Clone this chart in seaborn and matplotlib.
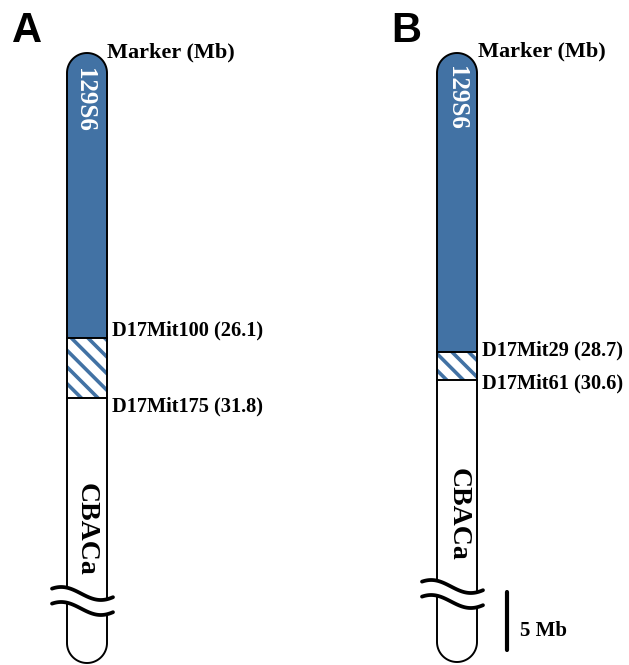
import numpy as np
import matplotlib
matplotlib.use("Agg")
import matplotlib.pyplot as plt
from matplotlib.path import Path
from matplotlib.patches import PathPatch, Rectangle
import seaborn as sns

# ---- data -------------------------------------------------------------
panel_letters = ["A", "B"]
marker_names_a = ["D17Mit100", "D17Mit175"]
marker_mb_a = [26.1, 31.8]
marker_names_b = ["D17Mit29", "D17Mit61"]
marker_mb_b = [28.7, 30.6]
upper_strain = "129S6"
lower_strain = "CBACa"
scale_bar_mb = 5

# ---- style ------------------------------------------------------------
sns.set_theme(style="white")
plt.rcParams["font.family"] = ["Liberation Serif", "DejaVu Serif"]
plt.rcParams["text.color"] = "black"
plt.rcParams["hatch.linewidth"] = 2.6

BLUE = "#4272a4"
W, H = 629, 665

fig = plt.figure(figsize=(W / 100, H / 100), dpi=100)
ax = fig.add_axes([0, 0, 1, 1])
ax.set_xlim(0, W)
ax.set_ylim(H, 0)
ax.set_axis_off()

# per-panel layout (pixel geometry and Mb -> pixel mapping)
panels = [
    dict(letter=panel_letters[0], names=marker_names_a, mb=marker_mb_a,
         xl=67, top=53, bottom=663, y0=62.7, ppm=10.53,
         label_dy=[-2, 14], waves=(593.5, 608.5),
         letter_xy=(12, 42), head_xy=(107, 57),
         upper_xy=(84, 100), lower_xy=(86, 529)),
    dict(letter=panel_letters[1], names=marker_names_b, mb=marker_mb_b,
         xl=437, top=53, bottom=662, y0=-71.0, ppm=14.74,
         label_dy=[3, 8], waves=(586.5, 601.5),
         letter_xy=(391, 42), head_xy=(478, 56),
         upper_xy=(457, 98), lower_xy=(458, 514)),
]
WIDTH = 40
R = WIDTH / 2


def chromosome_path(xl, top, bottom):
    xc = xl + R
    th = np.linspace(np.pi, 0, 40)
    top_arc = np.column_stack([xc + R * np.cos(th), top + R - R * np.sin(th)])
    th2 = np.linspace(0, np.pi, 40)
    bot_arc = np.column_stack([xc + R * np.cos(th2), bottom - R + R * np.sin(th2)])
    verts = np.vstack([top_arc, bot_arc, top_arc[:1]])
    codes = [Path.MOVETO] + [Path.LINETO] * (len(verts) - 2) + [Path.CLOSEPOLY]
    return Path(verts, codes)


def wave(x0, x1, yc, amp=6.5):
    x = np.linspace(x0, x1, 80)
    t = (x - x0) / (x1 - x0)
    y = yc - amp * np.cos(2 * np.pi * (t - 0.15) / 1.3)
    return x, y


for p in panels:
    xl = p["xl"]
    to_px = lambda mb, p=p: p["y0"] + mb * p["ppm"]
    b1, b2 = to_px(p["mb"][0]), to_px(p["mb"][1])

    path = chromosome_path(xl, p["top"], p["bottom"])
    fill = PathPatch(path, facecolor="white", edgecolor="none", zorder=1)
    ax.add_patch(fill)

    # donor segment (blue), flanking interval (hatched)
    blue = Rectangle((xl - 2, p["top"] - 2), WIDTH + 4, b1 - p["top"] + 2,
                     facecolor=BLUE, edgecolor="none", zorder=2)
    ax.add_patch(blue)
    blue.set_clip_path(fill)
    hatch = Rectangle((xl, b1), WIDTH, b2 - b1, facecolor="white",
                      edgecolor=BLUE, hatch="\\\\", linewidth=0, zorder=2)
    ax.add_patch(hatch)

    outline = PathPatch(path, facecolor="none", edgecolor="black",
                        linewidth=1.4, zorder=3)
    ax.add_patch(outline)
    for b in (b1, b2):
        ax.plot([xl, xl + WIDTH], [b, b], color="black", lw=1.4, zorder=3)

    # chromosome break
    x0, x1 = xl - 15, xl + WIDTH + 6
    wx, wy_up = wave(x0, x1, p["waves"][0])
    _, wy_lo = wave(x0, x1, p["waves"][1])
    ax.fill_between(wx, wy_up, wy_lo, color="white", zorder=4, lw=0)
    for wy in (wy_up, wy_lo):
        sns.lineplot(x=wx, y=wy, ax=ax, color="black", lw=2.7,
                     estimator=None, sort=False, zorder=5)

    # labels
    ax.text(*p["letter_xy"], p["letter"], family=["Liberation Sans", "DejaVu Sans"],
            fontsize=30, fontweight="bold", ha="left", va="baseline")
    ax.text(*p["head_xy"], "Marker (Mb)", fontsize=16, fontweight="bold",
            ha="left", va="baseline")
    for name, mb, b, dy in zip(p["names"], p["mb"], (b1, b2), p["label_dy"]):
        ax.text(xl + WIDTH + 5, b + dy, f"{name} ({mb})", fontsize=14.7,
                fontweight="bold", ha="left", va="baseline")
    ax.text(*p["upper_xy"], upper_strain, color="white", fontsize=18,
            fontweight="bold", rotation=-90, ha="center", va="center",
            rotation_mode="anchor", zorder=6)
    ax.text(*p["lower_xy"], lower_strain, color="black", fontsize=20,
            fontweight="bold", rotation=-90, ha="center", va="center",
            rotation_mode="anchor", zorder=6)

# scale bar
bar_ppm = 11.6
bar_x, bar_bottom = 507, 650
sns.lineplot(x=[bar_x, bar_x], y=[bar_bottom - scale_bar_mb * bar_ppm, bar_bottom],
             ax=ax, color="black", lw=3, estimator=None, sort=False)
ax.text(520, 636, f"{scale_bar_mb} Mb", fontsize=15, fontweight="bold",
        ha="left", va="baseline")

fig.savefig("out.png", dpi=100)
